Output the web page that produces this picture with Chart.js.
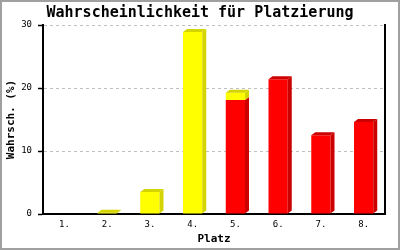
<!DOCTYPE html>
<html lang="de">
<head>
  <meta charset="UTF-8">
  <title>Wahrscheinlichkeit für Platzierung</title>
  <style>
    html, body { margin: 0; padding: 0; background: #fff; }
    #wrap { width: 400px; height: 250px; }
  </style>
</head>
<body>
  <div id="wrap"><canvas id="chart" width="400" height="250"></canvas></div>

  <script src="https://cdn.jsdelivr.net/npm/chart.js"></script>
  <script>
    // Daten
    const places = ["1.", "2.", "3.", "4.", "5.", "6.", "7.", "8."];
    const redValues = [0, 0, 0, 0, 18.1, 21.4, 12.5, 14.6];
    const yellowValues = [0, 0.2, 3.5, 28.9, 1.15, 0, 0, 0];
    const yTicks = [0, 10, 20, 30];

    const mono = "'DejaVu Sans Mono', 'Liberation Mono', monospace";

    // 3D-Seiten und Deckflächen für die Balken
    const depthPlugin = {
      id: "depth",
      afterDatasetsDraw(chart) {
        const ctx = chart.ctx;
        const dx = 4, dy = 3;
        const tops = {};
        chart.data.datasets.forEach((ds, di) => {
          const meta = chart.getDatasetMeta(di);
          meta.data.forEach((bar, i) => {
            if (!ds.data[i]) return;
            const right = bar.x + bar.width / 2;
            ctx.save();
            ctx.fillStyle = ds.sideColor;
            ctx.beginPath();
            ctx.moveTo(right, bar.y);
            ctx.lineTo(right + dx, bar.y - dy);
            ctx.lineTo(right + dx, bar.base - dy);
            ctx.lineTo(right, bar.base);
            ctx.closePath();
            ctx.fill();
            ctx.restore();
            tops[i] = { bar, color: ds.sideColor };
          });
        });
        Object.values(tops).forEach(({ bar, color }) => {
          const left = bar.x - bar.width / 2;
          const right = bar.x + bar.width / 2;
          ctx.save();
          ctx.fillStyle = color;
          ctx.beginPath();
          ctx.moveTo(left, bar.y);
          ctx.lineTo(left + dx, bar.y - dy);
          ctx.lineTo(right + dx, bar.y - dy);
          ctx.lineTo(right, bar.y);
          ctx.closePath();
          ctx.fill();
          ctx.restore();
        });
      }
    };

    const framePlugin = {
      id: "frame",
      beforeDraw(chart) {
        const ctx = chart.ctx;
        ctx.save();
        ctx.fillStyle = "#fff";
        ctx.fillRect(0, 0, chart.width, chart.height);
        ctx.restore();
      },
      afterDraw(chart) {
        const ctx = chart.ctx;
        ctx.save();
        ctx.strokeStyle = "#a0a0a0";
        ctx.lineWidth = 2;
        ctx.strokeRect(1, 1, chart.width - 2, chart.height - 2);
        ctx.restore();
      }
    };

    new Chart(document.getElementById("chart"), {
      type: "bar",
      data: {
        labels: places,
        datasets: [
          { data: redValues, backgroundColor: "#ff0000", sideColor: "#cc0000" },
          { data: yellowValues, backgroundColor: "#ffff00", sideColor: "#d4d400" }
        ]
      },
      options: {
        responsive: false,
        animation: false,
        events: [],
        barPercentage: 0.45,
        categoryPercentage: 1,
        layout: { padding: { left: 0, right: 0, top: 0, bottom: 4 } },
        plugins: {
          legend: { display: false },
          tooltip: { enabled: false },
          title: {
            display: true,
            text: "Wahrscheinlichkeit für Platzierung",
            color: "#000",
            font: { family: mono, size: 15, weight: "bold" },
            padding: { top: 4, bottom: 3 }
          }
        },
        scales: {
          x: {
            stacked: true,
            afterFit: s => { s.height = 32; },
            grid: { display: false, drawTicks: false },
            border: { display: true, color: "#000", width: 2 },
            ticks: { color: "#000", padding: 5, font: { family: mono, size: 9 } },
            title: {
              display: true,
              text: "Platz",
              color: "#000",
              font: { family: mono, size: 11, weight: "bold" },
              padding: { top: 0, bottom: 0 }
            }
          },
          y: {
            stacked: true,
            min: 0,
            max: 30,
            afterFit: s => { s.width = 43; },
            afterBuildTicks: s => { s.ticks = yTicks.map(v => ({ value: v })); },
            grid: {
              color: c => (c.tick && c.tick.value === 0 ? "rgba(0,0,0,0)" : "#c0c0c0"),
              tickColor: "#000",
              tickLength: 5,
              tickWidth: 1.5
            },
            border: { display: true, color: "#000", width: 2, dash: [3, 3] },
            ticks: { color: "#000", padding: 6, font: { family: mono, size: 9 } },
            title: {
              display: true,
              text: "Wahrsch. (%)",
              color: "#000",
              font: { family: mono, size: 11, weight: "bold" },
              padding: { top: 5, bottom: 0 }
            }
          },
          yRight: {
            position: "right",
            min: 0,
            max: 30,
            afterFit: s => { s.width = 15; },
            grid: { display: false, drawTicks: false },
            ticks: { display: false },
            border: { display: true, color: "#000", width: 2 }
          }
        }
      },
      plugins: [depthPlugin, framePlugin]
    });
  </script>
</body>
</html>
